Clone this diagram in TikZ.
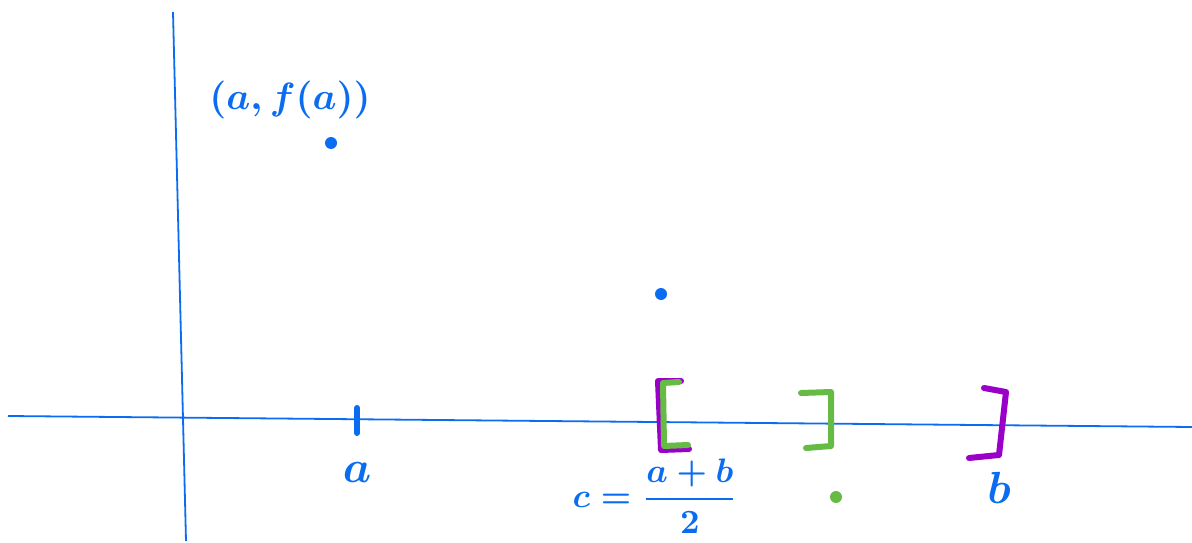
\documentclass[tikz,border=0pt]{standalone}
\usepackage{amsmath}
\usepackage{graphicx}
\definecolor{penblue}{HTML}{0A6CF0}
\definecolor{pengreen}{HTML}{66BB44}
\definecolor{penpurple}{HTML}{9A00C8}
\newcommand{\penscale}[2]{\scalebox{#1}{\boldmath#2}}
\begin{document}
\begin{tikzpicture}[x=1pt,y=-1pt,
  axis/.style={penblue,line width=1.8pt},
  brk/.style={line width=6pt,line cap=round,line join=round},
  lbl/.style={penblue,inner sep=0pt},
  pdot/.style={circle,fill,inner sep=0pt,minimum size=12pt}]
\useasboundingbox (0,0) rectangle (1192,543);
\fill[white] (0,0) rectangle (1192,543);
% axes
\coordinate (xl) at (8,416);
\coordinate (xr) at (1192,427);
\coordinate (yt) at (173,12);
\coordinate (yb) at (186,541);
\draw[axis] (xl) -- (xr);
\draw[axis] (yt) -- (yb);
% tick at a
\coordinate (ta) at (357,408);
\coordinate (tb) at (357,433);
\draw[penblue,line width=6pt,line cap=round] (ta) -- (tb);
\node[lbl] (alabel) at (357,472) {\penscale{4.5}{$a$}};
% point label
\node[lbl] (fa) at (290,100) {\penscale{3.8}{$(a,f(a))$}};
\node[pdot,penblue] (dota) at (331,143) {};
\node[pdot,penblue] (dotc) at (661,294) {};
\node[pdot,pengreen] (dotg) at (836,497) {};
% brackets
\draw[brk,penpurple] (681,381) -- (658,381) -- (661,450) -- (689,449);
\draw[brk,pengreen] (679,382) -- (663,383) -- (664,446) -- (688,445);
\draw[brk,pengreen] (801,393) -- (831,392) -- (831,446) -- (806,448);
\draw[brk,penpurple] (984,388) -- (1006,392) -- (999,455) -- (969,458);
% labels
\node[lbl] (blabel) at (999,488) {\penscale{4.5}{$b$}};
\node[lbl] (clabel) at (655,496) {\penscale{3.4}{$c=\dfrac{a+b}{2}$}};
\end{tikzpicture}
\end{document}
